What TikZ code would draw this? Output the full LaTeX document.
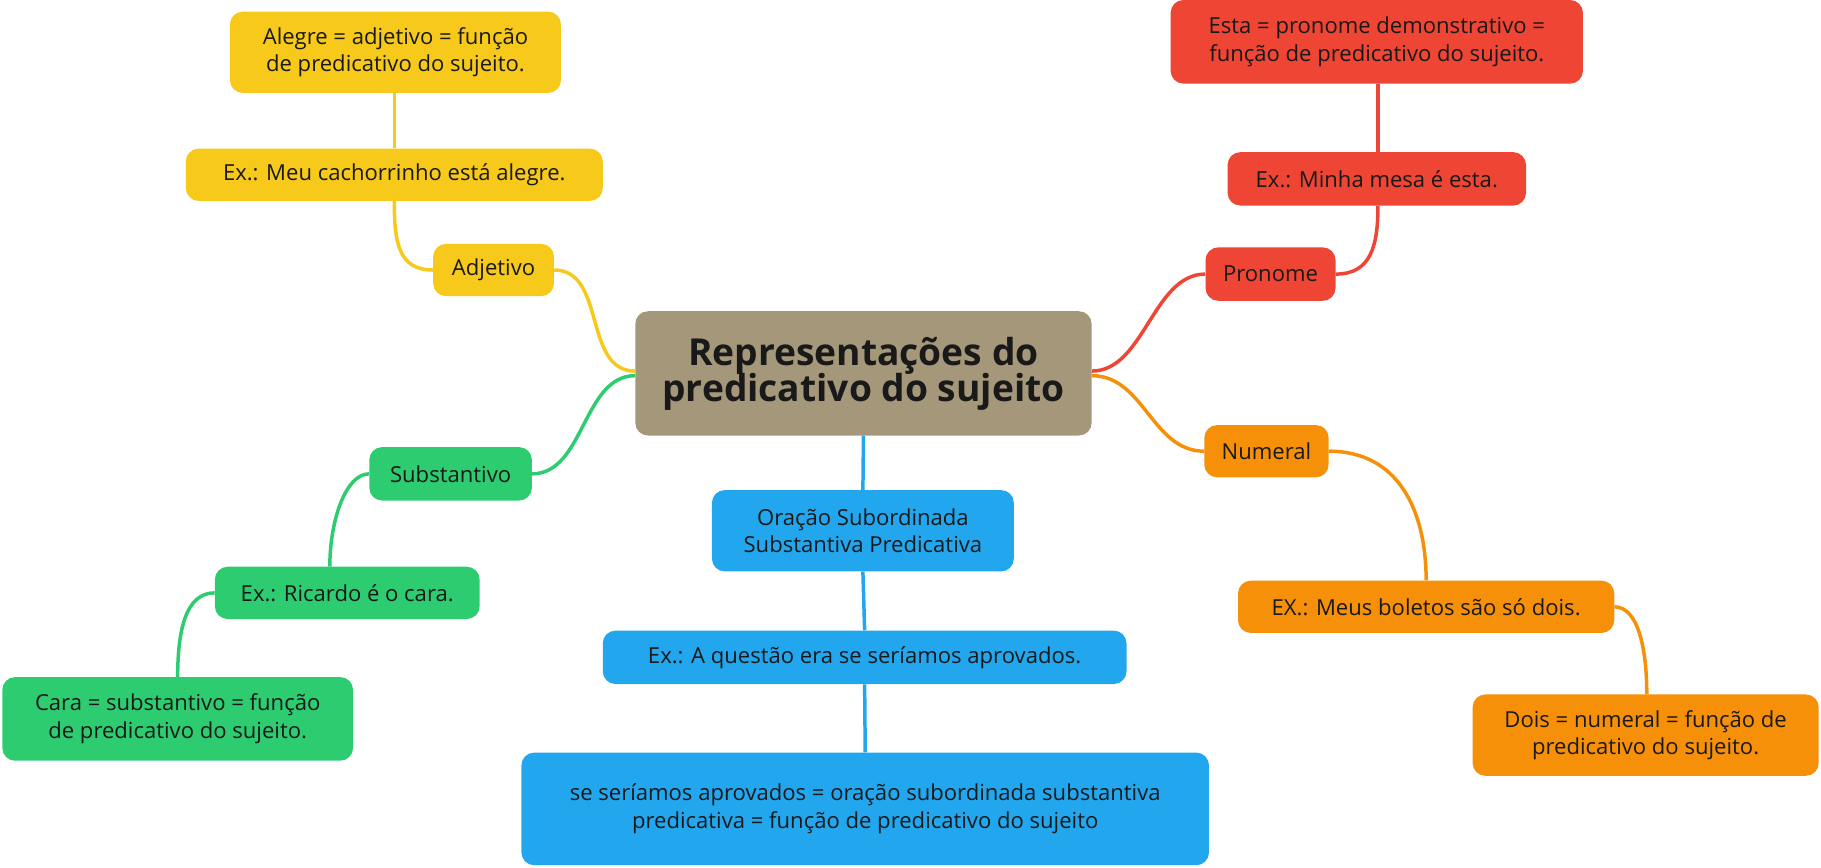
\documentclass[tikz,border=0pt]{standalone}
\usepackage{fontspec}
\setmainfont{Open Sans}
\definecolor{cbrown}{RGB}{164,151,122}
\definecolor{cyel}{RGB}{247,201,26}
\definecolor{cgreen}{RGB}{46,204,113}
\definecolor{cblue}{RGB}{34,166,238}
\definecolor{cred}{RGB}{238,69,53}
\definecolor{corange}{RGB}{247,144,9}
\tikzset{
  bx/.style={rounded corners=11pt, inner sep=0pt, align=center, font=\fontsize{19}{24}\selectfont, text=black!90},
  ln/.style={line width=3pt},
}
\newcommand{\bxn}[7]{% name, x1,x2,y1,y2, color, text
  \node[bx, fill=#6, minimum width={(#3-#2)*1pt}, minimum height={(#5-#4)*1pt}] (#1) at ({(#2+#3)/2*1pt},{-(#4+#5)/2*1pt}) {#7};}
\begin{document}
\begin{tikzpicture}[x=1pt,y=1pt]
\useasboundingbox (0,0) rectangle (1568,-747);
\bxn{c}{547}{940}{268}{375}{cbrown}{\fontsize{32}{40}\selectfont\bfseries Representações do\\[-2pt]\fontsize{32}{40}\selectfont\bfseries predicativo do sujeito}
\bxn{adj}{373}{477}{210}{255}{cyel}{Adjetivo}
\bxn{exy}{160}{519}{128}{173}{cyel}{Ex.: Meu cachorrinho está alegre.}
\bxn{ale}{198}{483}{10}{80}{cyel}{Alegre = adjetivo = função\\de predicativo do sujeito.}
\bxn{sub}{318}{458}{385}{431}{cgreen}{Substantivo}
\bxn{exg}{185}{413}{488}{533}{cgreen}{Ex.: Ricardo é o cara.}
\bxn{cara}{2}{304}{583}{655}{cgreen}{Cara = substantivo = função\\de predicativo do sujeito.}
\bxn{b1}{613}{873}{422}{492}{cblue}{Oração Subordinada\\Substantiva Predicativa}
\bxn{b2}{519}{970}{543}{589}{cblue}{Ex.: A questão era se seríamos aprovados.}
\bxn{b3}{449}{1041}{648}{745}{cblue}{se seríamos aprovados = oração subordinada substantiva\\predicativa = função de predicativo do sujeito}
\bxn{pro}{1038}{1150}{213}{259}{cred}{Pronome}
\bxn{exr}{1057}{1314}{131}{177}{cred}{Ex.: Minha mesa é esta.}
\bxn{esta}{1008}{1363}{0}{72}{cred}{Esta = pronome demonstrativo =\\função de predicativo do sujeito.}
\bxn{num}{1037}{1144}{366}{411}{corange}{Numeral}
\bxn{exo}{1066}{1390}{500}{545}{corange}{EX.: Meus boletos são só dois.}
\bxn{dois}{1268}{1566}{598}{668}{corange}{Dois = numeral = função de\\predicativo do sujeito.}
% connectors
\draw[ln,cyel] ([yshift=2]c.west) .. controls +(-45,0) and +(45,0) .. (adj.east);
\draw[ln,cyel] (adj.west) .. controls +(-30,0) and +(0,-35) .. (exy.south);
\draw[ln,cyel] (exy.north) -- (exy.north |- ale.south);
\draw[ln,cgreen] ([yshift=-2]c.west) .. controls +(-45,0) and +(45,0) .. (sub.east);
\draw[ln,cgreen] (sub.west) .. controls +(-20,0) and +(0,40) .. ([xshift=-15]exg.north);
\draw[ln,cgreen] (exg.west) .. controls +(-25,0) and +(0,40) .. (cara.north);
\draw[ln,cblue] (c.south) -- (b1.north);
\draw[ln,cblue] (b1.south) -- (b2.north);
\draw[ln,cblue] (b2.south) -- (b3.north);
\draw[ln,cred] ([yshift=2]c.east) .. controls +(45,0) and +(-45,0) .. (pro.west);
\draw[ln,cred] (pro.east) .. controls +(30,0) and +(0,-35) .. ([xshift=1]exr.south);
\draw[ln,cred] ([xshift=1]exr.north) -- ([xshift=1]exr.north |- esta.south);
\draw[ln,corange] ([yshift=-2]c.east) .. controls +(45,0) and +(-45,0) .. (num.west);
\draw[ln,corange] (num.east) .. controls +(60,0) and +(0,60) .. ([xshift=0]exo.north);
\draw[ln,corange] (exo.east) .. controls +(20,0) and +(0,40) .. ([xshift=1]dois.north);
\end{tikzpicture}
\end{document}
